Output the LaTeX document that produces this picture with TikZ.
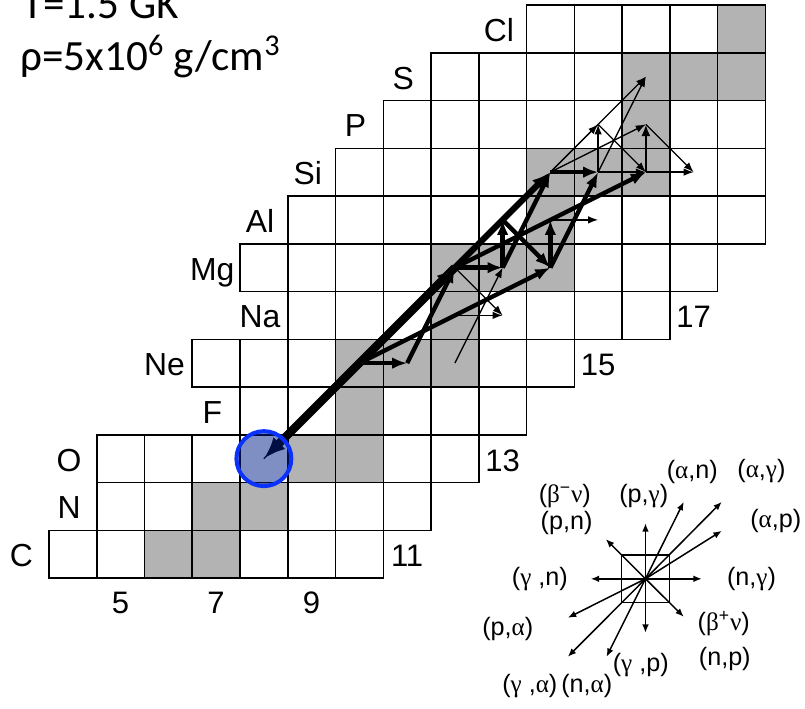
\documentclass[tikz,border=0pt]{standalone}
\usepackage{fontspec}
\setmainfont{Liberation Sans}
\newfontfamily\calib{Carlito}
\newfontfamily\grk{Liberation Serif}
\usetikzlibrary{arrows.meta}
\definecolor{stab}{RGB}{179,179,179}
\definecolor{ringblue}{RGB}{10,50,250}
\definecolor{ringfill}{RGB}{0,30,135}
\newcommand{\grAl}{{\grk α}}
\newcommand{\grGa}{{\grk γ}}
\newcommand{\grBe}{{\grk β}}
\newcommand{\grNu}{{\grk ν}}
\begin{document}
\begin{tikzpicture}[x=1cm,y=1cm,
  cellbox/.style={draw=black, line width=0.9pt, minimum size=1cm, inner sep=0pt, outer sep=0pt},
  elem/.style={font=\fontsize{19}{22}\selectfont, anchor=base, inner sep=0pt},
  nnum/.style={font=\fontsize{18.5}{22}\selectfont, anchor=base, inner sep=0pt},
  thinarr/.style={line width=0.8pt, -{Latex[length=6pt,width=4.5pt]}},
  medarr/.style={line width=1.5pt, -{Latex[length=7pt,width=5.5pt]}},
  thickarr/.style={line width=2.6pt, -{Latex[length=9pt,width=7pt]}},
  bigarr/.style={line width=3.6pt, -{Latex[length=11pt,width=8.5pt]}},
  hugearr/.style={line width=5pt, -{Latex[length=13pt,width=10pt]}},
  legarr/.style={line width=0.9pt, -{Latex[length=5pt,width=4pt]}},
  leglab/.style={font=\fontsize{15}{17}\selectfont, inner sep=0pt},
  toptext/.style={font=\calib\fontsize{25.7}{30}\selectfont, anchor=base west, inner sep=0pt}
]
\useasboundingbox (0,0) rectangle (16.8586,-14.8272);
\clip (0,0) rectangle (16.8586,-14.8272);

\begin{scope}[shift={(-2.9738,-18.1047)}]
  % stable nuclei
  \foreach \N/\Z in {6/6,7/6, 7/7,8/7, 9/8,10/8, 10/9, 10/10,11/10,12/10, 12/11,
                     12/12,13/12,14/12, 14/13, 14/14,15/14,16/14, 16/15,
                     16/16,17/16,18/16, 18/17}
    \fill[stab] (\N,\Z) rectangle ++(1,1);
  % grid of cells
  \foreach \Z/\a/\b in {6/4/10, 7/5/11, 8/5/12, 9/8/13, 10/7/14, 11/9/16, 12/8/17,
                        13/9/18, 14/10/18, 15/11/18, 16/12/18, 17/14/18}
    \foreach \N in {\a,...,\b}
      \node[cellbox] (c-\N-\Z) at (\N+0.5,\Z+0.5) {};
  % element labels
  \foreach \lab/\x/\Z in {C/3/6, N/4/7, O/4/8, F/7/9, Ne/6/10, Na/8/11, Mg/7/12,
                          Al/8/13, Si/9/14, P/10/15, S/11/16, Cl/13/17}
    \node[elem] (lab-\lab) at (\x+0.42,\Z+0.24) {\lab};
  % neutron numbers
  \node[nnum] (n5) at (5.5,5.25) {5};
  \node[nnum] (n7) at (7.5,5.25) {7};
  \node[nnum] (n9) at (9.5,5.25) {9};
  \node[nnum] (n11) at (11.5,6.24) {11};
  \node[nnum] (n13) at (13.5,8.24) {13};
  \node[nnum] (n15) at (15.5,10.24) {15};
  \node[nnum] (n17) at (17.5,11.24) {17};

  % thin flows
  \draw[thinarr] (c-12-10.center) -- (c-13-12.center);
  \draw[thinarr] (c-12-11.center) -- (c-13-11.center);
  \draw[thinarr] (c-12-12.center) -- (c-13-11.center);
  \draw[thinarr] (c-14-13.center) -- (c-15-13.center);
  \draw[thinarr] (c-15-14.center) -- (c-16-14.center);
  \draw[thinarr] (c-16-14.center) -- (c-17-14.center);
  \draw[thinarr] (c-16-15.center) -- (c-17-14.center);
  \draw[thinarr] (c-15-14.center) -- (c-15-15.center);
  \draw[thinarr] (c-15-15.center) -- (c-16-14.center);
  \draw[medarr]  (c-16-14.center) -- (c-16-15.center);
  \draw[thinarr] (c-14-14.center) -- (c-16-15.center);
  \draw[thinarr] (c-14-14.center) -- (c-16-16.center);
  \draw[thinarr] (c-15-14.center) -- (c-16-16.center);
  \draw[thinarr] (c-14-14.center) -- (c-15-15.center);
  \draw[thinarr] (c-8-8.center) -- (c-10-10.center);
  % thick flows
  \draw[thickarr] (c-10-10.center) -- (c-11-10.center);
  \draw[thickarr] (c-11-10.center) -- (c-12-12.center);
  \draw[thickarr] (c-10-10.center) -- (c-14-12.center);
  \draw[thickarr] (c-12-12.center) -- (c-13-12.center);
  \draw[thickarr] (c-13-12.center) -- (c-13-13.center);
  \draw[thickarr] (c-13-13.center) -- (c-14-12.center);
  \draw[thickarr] (c-14-12.center) -- (c-14-13.center);
  \draw[thickarr] (c-12-12.center) -- (c-16-14.center);
  \draw[thickarr] (c-13-12.center) -- (c-14-14.center);
  \draw[thickarr] (c-14-12.center) -- (c-15-14.center);
  \draw[thickarr] (c-14-14.center) -- (c-15-14.center);
  \draw[bigarr]   (c-12-12.center) -- (c-14-14.center);
  \draw[bigarr]   (c-10-10.center) -- (c-12-12.center);
  \draw[hugearr]  (c-12-12.center) -- (c-8-8.center);
  % O-16 marker
  \node[circle, draw=ringblue, line width=2.4pt, fill=ringfill, fill opacity=0.5,
        minimum size=1.15cm, inner sep=0pt] (o16) at (c-8-8.center) {};
\end{scope}

\begin{scope}[x=0.0209424cm,y=-0.0209424cm]
  \node[toptext] (temp) at (22,18.5) {T=1.5 GK};
  \node[toptext] (dens) at (20,70.7) {ρ=5x10\textsuperscript{6} g/cm\textsuperscript{3}};
  % legend
  \node[draw, line width=0.9pt, minimum size=1cm, inner sep=0pt, outer sep=0pt] (leg) at (645.7,579) {};
  \coordinate (tE) at (702,579);
  \coordinate (tW) at (591,579);
  \coordinate (tN) at (645.7,523.5);
  \coordinate (tS) at (645.7,633);
  \coordinate (tSE) at (684,617);
  \coordinate (tNW) at (606,539.3);
  \coordinate (tAN) at (684,502);
  \coordinate (tAG) at (722,502);
  \coordinate (tAP) at (722,531);
  \coordinate (tPA) at (568,618);
  \coordinate (tGA) at (568,657);
  \coordinate (tNA) at (606.7,657);
  \foreach \t in {tE,tW,tN,tS,tSE,tNW,tAN,tAG,tAP,tPA,tGA,tNA}
    \draw[legarr] (leg.center) -- (\t);
  \node[leglab] (l1) at (692.5,471.7) {(\grAl,n)};
  \node[leglab] (l2) at (761.7,471.7) {(\grAl,\grGa)};
  \node[leglab] (l3) at (644,496.7) {(p,\grGa)};
  \node[leglab] (l4) at (565,496) {(\grBe\textsuperscript{−}\grNu)};
  \node[leglab] (l5) at (566.7,523.5) {(p,n)};
  \node[leglab] (l6) at (776,521) {(\grAl,p)};
  \node[leglab] (l7) at (540,579) {(\grGa\ ,n)};
  \node[leglab] (l8) at (751.7,579) {(n,\grGa)};
  \node[leglab] (l9) at (508,629.3) {(p,\grAl)};
  \node[leglab] (l10) at (724,624) {(\grBe\textsuperscript{+}\grNu)};
  \node[leglab] (l11) at (725,659) {(n,p)};
  \node[leglab] (l12) at (641,665) {(\grGa\ ,p)};
  \node[leglab] (l13) at (530,686.7) {(\grGa\ ,\grAl)};
  \node[leglab] (l14) at (587,686.7) {(n,\grAl)};
\end{scope}
\end{tikzpicture}
\end{document}
